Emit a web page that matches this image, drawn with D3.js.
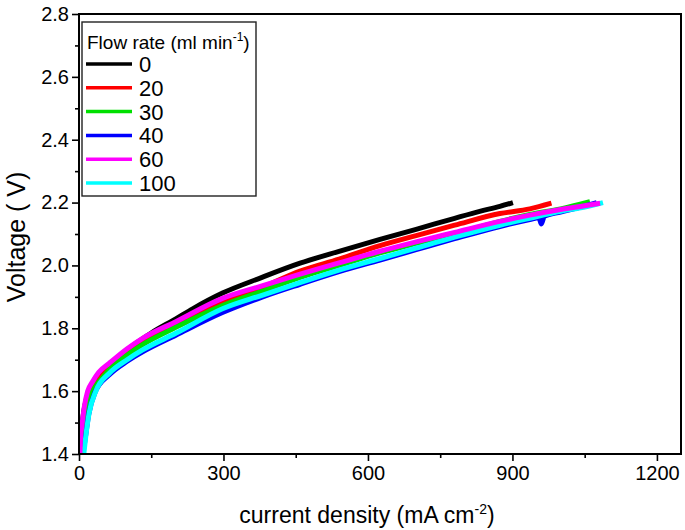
<!DOCTYPE html>
<html>
<head>
<meta charset="utf-8">
<script src="https://cdn.jsdelivr.net/npm/d3@7"></script>
<style>
  body { margin: 0; background: #fff; }
  text { font-family: "Liberation Sans", Arial, sans-serif; fill: #000; }
</style>
</head>
<body>
<div id="chart"></div>
<script>
// flow rates (ml min-1) and line colours
const flowRates = ["0", "20", "30", "40", "60", "100"];
const colors = ["#000000", "#ff0000", "#00e000", "#0000ff", "#ff00ff", "#00ffff"];

// polarisation curves: [current density mA cm-2, voltage V]
const flow0 = [[1,1.40],[3,1.45],[6,1.49],[11,1.545],[18,1.59],[28,1.625],[41,1.655],[63,1.685],[100,1.732],[150,1.785],[201,1.830],[236,1.862],[298,1.912],[380,1.962],[459,2.007],[540,2.045],[625,2.083],[700,2.115],[780,2.150],[832,2.172],[874,2.188],[901,2.200]];
const flow20 = [[2,1.40],[4,1.45],[8,1.49],[13,1.54],[21,1.59],[32,1.625],[45,1.65],[63,1.68],[100,1.725],[132,1.758],[201,1.812],[298,1.882],[380,1.930],[459,1.982],[540,2.020],[625,2.063],[700,2.095],[780,2.128],[874,2.165],[936,2.180],[981,2.198]];
const flow30 = [[4,1.40],[6,1.45],[10,1.49],[16,1.54],[25,1.59],[36,1.62],[50,1.645],[63,1.668],[100,1.715],[132,1.748],[201,1.803],[298,1.872],[380,1.918],[459,1.962],[540,2.000],[625,2.040],[700,2.070],[780,2.100],[874,2.140],[936,2.162],[1000,2.180],[1061,2.203]];
const flow40 = [[8,1.40],[13,1.45],[20,1.525],[33,1.595],[63,1.652],[100,1.695],[132,1.725],[201,1.778],[298,1.850],[380,1.899],[459,1.940],[540,1.980],[625,2.017],[700,2.050],[780,2.085],[874,2.124],[936,2.146],[955,2.152],[960,2.132],[966,2.156],[1000,2.170],[1040,2.185],[1075,2.200]];
const flow60 = [[2,1.40],[3,1.45],[6,1.49],[11,1.55],[18,1.60],[28,1.63],[41,1.66],[63,1.689],[100,1.735],[132,1.768],[201,1.821],[298,1.895],[380,1.935],[459,1.972],[540,2.008],[625,2.045],[700,2.075],[780,2.105],[874,2.140],[936,2.160],[1000,2.178],[1050,2.190],[1082,2.198]];
const flow100 = [[10,1.40],[14,1.455],[21,1.53],[35,1.60],[63,1.657],[100,1.700],[132,1.731],[201,1.784],[298,1.862],[380,1.905],[459,1.945],[540,1.985],[625,2.022],[700,2.055],[780,2.090],[874,2.128],[936,2.150],[1000,2.172],[1050,2.186],[1088,2.200]];

const xTicks = [0, 300, 600, 900, 1200];
const yTicks = [1.4, 1.6, 1.8, 2.0, 2.2, 2.4, 2.6, 2.8];

const series = [flow0, flow20, flow30, flow40, flow60, flow100];
// draw order: magenta sits on top of the bundle
const drawOrder = [0, 1, 2, 3, 5, 4];

const W = 685, H = 530;
const margin = {top: 14, right: 4, bottom: 76, left: 79};
const width = W - margin.left - margin.right;
const height = H - margin.top - margin.bottom;

const svg = d3.select("#chart").append("svg")
  .attr("width", W)
  .attr("height", H);

const g = svg.append("g")
  .attr("transform", `translate(${margin.left},${margin.top})`);

const xScale = d3.scaleLinear().domain([0, 1250]).range([0, width]);
const yScale = d3.scaleLinear().domain([1.4, 2.8]).range([height, 0]);

/* minor ticks first, majors with labels on top */
g.append("g")
  .attr("transform", `translate(0,${height})`)
  .call(d3.axisBottom(xScale).tickValues([150, 450, 750, 1050]).tickSize(4).tickFormat(""));
g.append("g")
  .call(d3.axisLeft(yScale).tickValues([1.5, 1.7, 1.9, 2.1, 2.3, 2.5, 2.7]).tickSize(4).tickFormat(""));

const xAxis = g.append("g")
  .attr("transform", `translate(0,${height})`)
  .call(d3.axisBottom(xScale).tickValues(xTicks).tickSize(7).tickPadding(5).tickFormat(d3.format("d")));
const yAxis = g.append("g")
  .call(d3.axisLeft(yScale).tickValues(yTicks).tickSize(7).tickPadding(3).tickFormat(d3.format(".1f")));

g.selectAll(".domain").remove();
g.selectAll(".tick line").attr("stroke", "#000").attr("stroke-width", 1.6);
xAxis.selectAll("text").attr("font-size", 20);
yAxis.selectAll("text").attr("font-size", 20);

/* curves */
g.append("clipPath").attr("id", "plotclip")
  .append("rect").attr("width", width).attr("height", height + 1);

const line = d3.line()
  .x(d => xScale(d[0]))
  .y(d => yScale(d[1]))
  .curve(d3.curveMonotoneX);

g.append("g").attr("clip-path", "url(#plotclip)")
  .selectAll("path")
  .data(drawOrder)
  .join("path")
    .attr("d", i => line(series[i]))
    .attr("fill", "none")
    .attr("stroke", i => colors[i])
    .attr("stroke-width", 5)
    .attr("stroke-linejoin", "round");

/* frame */
g.append("rect")
  .attr("width", width)
  .attr("height", height)
  .attr("fill", "none")
  .attr("stroke", "#000")
  .attr("stroke-width", 2);

/* axis titles */
const xTitle = svg.append("text")
  .attr("x", margin.left + xScale(598))
  .attr("y", 523)
  .attr("text-anchor", "middle")
  .attr("font-size", 23);
xTitle.append("tspan").text("current density (mA cm");
xTitle.append("tspan").attr("font-size", 14).attr("dy", -9).text("-2");
xTitle.append("tspan").attr("dy", 9).text(")");

svg.append("text")
  .attr("transform", `translate(25,${margin.top + height / 2 + 3}) rotate(-90)`)
  .attr("text-anchor", "middle")
  .attr("font-size", 25)
  .text("Voltage ( V)");

/* legend */
const legend = svg.append("g").attr("transform", "translate(82,22)");
legend.append("rect")
  .attr("width", 174)
  .attr("height", 174)
  .attr("fill", "#fff")
  .attr("stroke", "#222")
  .attr("stroke-width", 1.4);

const lt = legend.append("text").attr("x", 5).attr("y", 27).attr("font-size", 19);
lt.append("tspan").text("Flow rate (ml min");
lt.append("tspan").attr("font-size", 12).attr("dy", -8).text("-1");
lt.append("tspan").attr("dy", 8).text(")");

const rows = legend.selectAll(".row")
  .data(flowRates)
  .join("g")
    .attr("class", "row")
    .attr("transform", (d, i) => `translate(0,${42 + i * 23.8})`);
rows.append("line")
  .attr("x1", 4).attr("x2", 50)
  .attr("stroke", (d, i) => colors[i])
  .attr("stroke-width", 3.5);
rows.append("text")
  .attr("x", 57)
  .attr("y", 8)
  .attr("font-size", 22)
  .text(d => d);
</script>
</body>
</html>
